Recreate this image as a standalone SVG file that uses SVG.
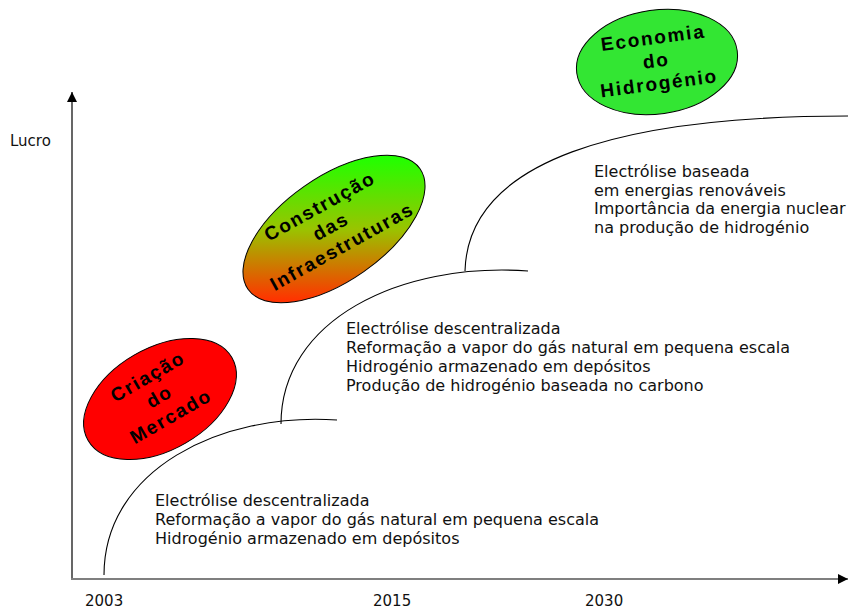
<svg xmlns="http://www.w3.org/2000/svg" width="849" height="611" viewBox="0 0 849 611">
<style>
.body{font-family:"DejaVu Sans","Verdana",sans-serif;font-size:16px;fill:#111}
.lab{font-family:"DejaVu Sans","Verdana",sans-serif;font-size:15px;fill:#111}
.el{stroke:#000;stroke-width:1}
.et{font-family:"Liberation Sans",Arial,sans-serif;font-weight:bold;font-size:19px;letter-spacing:1.8px;fill:#000;text-anchor:middle}
.curve{fill:none;stroke:#000;stroke-width:1.1}
</style>
<defs>
<marker id="ah" viewBox="0 0 10 10" refX="10" refY="5" markerWidth="10" markerHeight="10" markerUnits="userSpaceOnUse" orient="auto">
<path d="M0,0 L10,5 L0,10 z" fill="#000"/>
</marker>
<linearGradient id="grad" gradientUnits="userSpaceOnUse" x1="40.7" y1="-58.2" x2="-40.7" y2="58.2">
<stop offset="0" stop-color="#22ff00"/>
<stop offset="0.5" stop-color="#99c400"/>
<stop offset="1" stop-color="#ff3300"/>
</linearGradient>
</defs>
<rect width="849" height="611" fill="#fff"/>
<g id="axes">
<line x1="72" y1="579" x2="72" y2="92" stroke="#000" stroke-width="1.2" marker-end="url(#ah)"/>
<line x1="71" y1="579" x2="848" y2="579" stroke="#7f7f7f" stroke-width="2" marker-end="url(#ah)"/>
<text class="lab" x="10" y="146">Lucro</text>
<text class="lab" x="85" y="606">2003</text>
<text class="lab" x="373" y="606">2015</text>
<text class="lab" x="585" y="606">2030</text>
</g>
<g id="connectors">
<path class="curve" d="M104,575 C104,470 220,412 337,420"/>
<path class="curve" d="M281,424 C281,320 400,262 528,271"/>
<path class="curve" d="M465,271 C468,160 620,116 848,116"/>
</g>
<g id="stage1-text">
<text class="body" x="155" y="506">Electrólise descentralizada</text>
<text class="body" x="155" y="525">Reformação a vapor do gás natural em pequena escala</text>
<text class="body" x="155" y="544">Hidrogénio armazenado em depósitos</text>
</g>
<g id="stage2-text">
<text class="body" x="346" y="334">Electrólise descentralizada</text>
<text class="body" x="346" y="353">Reformação a vapor do gás natural em pequena escala</text>
<text class="body" x="346" y="372">Hidrogénio armazenado em depósitos</text>
<text class="body" x="346" y="391">Produção de hidrogénio baseada no carbono</text>
</g>
<g id="stage3-text">
<text class="body" x="594" y="177">Electrólise baseada</text>
<text class="body" x="594" y="195.5">em energias renováveis</text>
<text class="body" x="594" y="214">Importância da energia nuclear</text>
<text class="body" x="594" y="232.5">na produção de hidrogénio</text>
</g>
<g id="criacao-mercado">
<ellipse class="el" cx="0" cy="0" rx="83" ry="51" fill="#ff0000" transform="translate(160,399) rotate(-30)"/>
<g transform="translate(162.5,402) rotate(-30)">
<text class="et" x="0" y="-23">Criação</text>
<text class="et" x="0" y="0">do</text>
<text class="et" x="0" y="23">Mercado</text>
</g>
</g>
<g id="construcao-infraestruturas">
<ellipse class="el" cx="0" cy="0" rx="105" ry="52" fill="url(#grad)" transform="translate(334,229) rotate(-35)"/>
<g transform="translate(334,232) rotate(-29)">
<text class="et" x="0" y="-23">Construção</text>
<text class="et" x="0" y="0">das</text>
<text class="et" x="0" y="23">Infraestruturas</text>
</g>
</g>
<g id="economia-hidrogenio">
<ellipse class="el" cx="0" cy="0" rx="81" ry="52" fill="#33e633" transform="translate(657,62) rotate(-8)"/>
<g transform="translate(657,67) rotate(-7.5)">
<text class="et" x="0" y="-23">Economia</text>
<text class="et" x="0" y="0">do</text>
<text class="et" x="0" y="23">Hidrogénio</text>
</g>
</g>
</svg>
